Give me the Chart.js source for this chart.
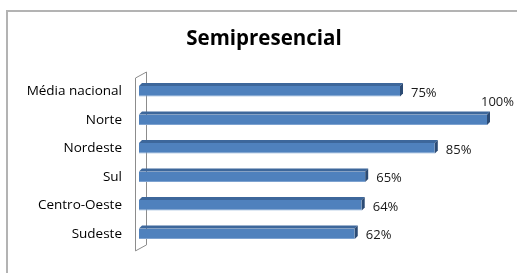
<!DOCTYPE html>
<html>
<head>
<meta charset="utf-8">
<script src="https://cdn.jsdelivr.net/npm/chart.js@4/dist/chart.umd.min.js"></script>
<style>
  body { margin: 0; background: #fff; }
  #wrap { width: 517px; height: 273px; }
</style>
</head>
<body>
<div id="wrap"><canvas id="myChart" width="517" height="273"></canvas></div>
<script>
const regionNames = ['Média nacional', 'Norte', 'Nordeste', 'Sul', 'Centro-Oeste', 'Sudeste'];
const semiValues = [75, 100, 85, 65, 64, 62];
const chartTitle = 'Semipresencial';

// frame + title + the little 3D wall behind the category axis
const backdrop = {
  id: 'backdrop',
  beforeDraw(chart) {
    const ctx = chart.ctx;
    ctx.save();
    ctx.strokeStyle = '#b3b3b3';
    ctx.lineWidth = 2;
    ctx.strokeRect(7, 11, chart.width + 10, chart.height + 10);
    ctx.fillStyle = '#000';
    ctx.font = 'bold 20.5px "Open Sans"';
    ctx.textAlign = 'center';
    ctx.textBaseline = 'middle';
    ctx.fillText(chartTitle, 264, 39);
    ctx.restore();
  },
  beforeDatasetsDraw(chart) {
    const ctx = chart.ctx, a = chart.chartArea;
    const fx = a.left - 4, bx = a.left + 7;
    ctx.save();
    ctx.strokeStyle = '#8c8c8c';
    ctx.lineWidth = 1;
    ctx.beginPath();
    ctx.moveTo(fx + 0.5, a.top + 1);
    ctx.lineTo(bx + 0.5, a.top - 5);
    ctx.lineTo(bx + 0.5, a.bottom - 3);
    ctx.lineTo(fx + 0.5, a.bottom + 3);
    ctx.closePath();
    ctx.stroke();
    ctx.restore();
  },
  afterDatasetsDraw(chart) {
    const ctx = chart.ctx;
    const meta = chart.getDatasetMeta(0);
    const d = 3;
    ctx.save();
    meta.data.forEach((bar, i) => {
      const top = bar.y - bar.height / 2, bot = bar.y + bar.height / 2;
      const x0 = bar.base, x1 = bar.x;
      // top face
      ctx.fillStyle = '#3d679b';
      ctx.beginPath();
      ctx.moveTo(x0, top);
      ctx.lineTo(x1, top);
      ctx.lineTo(x1 + d, top - d);
      ctx.lineTo(x0 + d, top - d);
      ctx.closePath();
      ctx.fill();
      // side face
      ctx.fillStyle = '#2c4b74';
      ctx.beginPath();
      ctx.moveTo(x1, top);
      ctx.lineTo(x1 + d, top - d);
      ctx.lineTo(x1 + d, bot - d);
      ctx.lineTo(x1, bot);
      ctx.closePath();
      ctx.fill();
      // value label
      const txt = semiValues[i] + '%';
      ctx.font = '13px "Open Sans"';
      ctx.fillStyle = '#1a1a1a';
      ctx.textBaseline = 'middle';
      const w = ctx.measureText(txt).width;
      let lx = x1 + 11, ly = bar.y + 2;
      if (lx + w > chart.width - 3) {
        lx = chart.width - 3 - w;
        ly = top - 12;
      }
      ctx.fillText(txt, lx, ly);
    });
    ctx.restore();
  }
};

new Chart(document.querySelector('#myChart'), {
  type: 'bar',
  data: {
    labels: regionNames,
    datasets: [{
      data: semiValues,
      backgroundColor: '#4f81bd',
      borderColor: '#7da2d0',
      borderWidth: { top: 0, right: 0, bottom: 1, left: 0 },
      borderSkipped: false,
      barPercentage: 0.37,
      categoryPercentage: 1
    }]
  },
  options: {
    indexAxis: 'y',
    responsive: false,
    animation: false,
    layout: { padding: { top: 77, bottom: 15, left: 0, right: 30 } },
    plugins: {
      legend: { display: false },
      title: { display: false },
      tooltip: { enabled: false }
    },
    scales: {
      x: { display: false, min: 0, max: 100 },
      y: {
        grid: { display: false, drawTicks: false },
        border: { display: false },
        afterFit(scale) { scale.width = 139; },
        ticks: {
          padding: 17,
          color: '#000',
          font: { family: 'Open Sans', size: 13.5 }
        }
      }
    }
  },
  plugins: [backdrop]
});
</script>
</body>
</html>
